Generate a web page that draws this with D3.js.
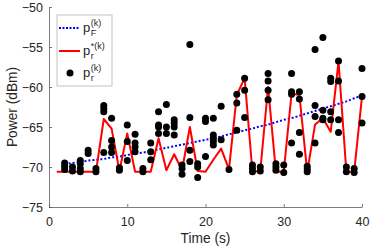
<!DOCTYPE html>
<html>
<head>
<meta charset="utf-8">
<script src="https://cdn.jsdelivr.net/npm/d3@7"></script>
<style>
  body { margin: 0; background: #fff; }
  svg { font-family: "Liberation Sans", Arial, sans-serif; }
  .axis text { fill: #262626; font-size: 12.5px; }
  .axis path, .axis line { stroke: #595959; stroke-width: 0.8; }
</style>
</head>
<body>
<div id="chart"></div>
<script>
// time steps
var optTimes = d3.range(1, 41);
var fitTimes = d3.range(2, 41);
var dotTimes = d3.range(2, 41);

// p_F^(k), trend line
var fitPower = [-69.6, -69.5, -69.4, -69.2, -69.1, -69.0, -68.8, -68.7, -68.5, -68.3,
  -68.2, -68.0, -67.8, -67.6, -67.4, -67.2, -67.0, -66.8, -66.6, -66.4,
  -66.2, -65.9, -65.7, -65.4, -65.2, -64.9, -64.7, -64.4, -64.1, -63.9,
  -63.6, -63.3, -63.0, -62.7, -62.4, -62.1, -61.8, -61.4, -61.1];

// p_r^*(k)
var optPower = [-70.6, -70.6, -70.6, -70.6, -70.6, -70.6, -64.0, -65.2, -70.5, -65.8,
  -70.6, -70.6, -70.6, -66.4, -70.4, -68.4, -70.4, -65.0, -70.5, -70.6,
  -69.1, -67.7, -70.3, -61.0, -58.9, -70.6, -70.5, -60.0, -70.6, -70.6,
  -60.8, -61.0, -70.6, -64.7, -63.9, -65.6, -56.8, -70.6, -70.6, -61.2];

// p_r^(k), measured samples per time step (t = 2..40)
var dotPower = [
  [-69.5, -69.9, -70.3],
  [-70.0, -70.5],
  [-69.2, -69.6, -70.2, -70.6],
  [-67.9, -68.3],
  [-70.2, -70.6],
  [-62.3, -62.7, -63.1, -68.2],
  [-63.9, -66.7, -67.5, -68.2],
  [-70.1, -70.4],
  [-64.75, -66.8, -69.2],
  [-65.9, -67.0, -67.5, -68.1],
  [-70.2, -70.6],
  [-67.0, -68.1, -69.1],
  [-63.1, -64.75, -65.0, -65.8],
  [-62.2, -65.0, -65.8],
  [-64.1, -64.5, -65.0, -66.0],
  [-69.75, -70.2, -70.9],
  [-54.7, -63.8, -67.9, -69.3],
  [-69.6, -70.0, -71.3],
  [-63.9, -64.3, -68.7],
  [-63.9, -66.0, -66.4, -66.8, -67.25],
  [-62.4, -66.6],
  [-70.3],
  [-60.9, -62.0, -65.4],
  [-58.9, -60.4, -63.8],
  [-69.75, -70.2, -70.6],
  [-70.0, -70.5],
  [-58.3, -59.25, -60.4, -61.6],
  [-69.6, -70.0, -70.4],
  [-69.75, -70.7],
  [-58.3, -60.6, -60.9, -67.0],
  [-60.6, -61.5, -65.7, -68.4],
  [-69.9, -70.25, -70.6],
  [-55.3, -62.3, -63.7, -67.0],
  [-53.8, -62.9, -63.9, -64.1],
  [-58.9, -59.3, -63.1, -64.1],
  [-56.75, -59.25, -64.1, -65.7],
  [-70.0, -70.6],
  [-70.2, -70.7],
  [-57.7, -61.2, -64.5]
];

var xTicks = [0, 10, 20, 30, 40];
var yTicks = [-50, -55, -60, -65, -70, -75];

var width = 374, height = 247;
var margin = {left: 49, right: 12, top: 7, bottom: 40};

var svg = d3.select("#chart").append("svg")
  .attr("width", width)
  .attr("height", height);

var x = d3.scaleLinear().domain([0, 40]).range([margin.left, width - margin.right]);
var y = d3.scaleLinear().domain([-75, -50]).range([height - margin.bottom, margin.top]);

// axes, ticks inward like matlab
svg.append("g")
  .attr("class", "axis")
  .attr("transform", "translate(0," + y(-75) + ")")
  .call(d3.axisBottom(x).tickValues(xTicks).tickSizeInner(-3).tickSizeOuter(0).tickPadding(10));

svg.append("g")
  .attr("class", "axis")
  .attr("transform", "translate(" + x(0) + ",0)")
  .call(d3.axisLeft(y).tickValues(yTicks).tickSizeInner(-3).tickSizeOuter(0).tickPadding(6));

svg.append("text")
  .attr("x", (x(0) + x(40)) / 2)
  .attr("y", 243)
  .attr("text-anchor", "middle")
  .attr("font-size", 13.75)
  .attr("fill", "#262626")
  .text("Time (s)");

svg.append("text")
  .attr("transform", "translate(17," + ((y(-50) + y(-75)) / 2) + ") rotate(-90)")
  .attr("text-anchor", "middle")
  .attr("font-size", 13.75)
  .attr("fill", "#262626")
  .text("Power (dBm)");

// lines
var fitLine = d3.line().x(function (d, i) { return x(fitTimes[i]); }).y(function (d) { return y(d); });
var optLine = d3.line().x(function (d, i) { return x(optTimes[i]); }).y(function (d) { return y(d); });

svg.append("path")
  .datum(fitPower)
  .attr("d", fitLine)
  .attr("fill", "none")
  .attr("stroke", "#0000ff")
  .attr("stroke-width", 2)
  .attr("stroke-dasharray", "2,2");

svg.append("path")
  .datum(optPower)
  .attr("d", optLine)
  .attr("fill", "none")
  .attr("stroke", "#ff0000")
  .attr("stroke-width", 2)
  .attr("stroke-linejoin", "round");

// flatten samples into points
var dots = [];
dotPower.forEach(function (vals, i) {
  vals.forEach(function (v) { dots.push({t: dotTimes[i], p: v}); });
});

svg.append("g").selectAll("circle")
  .data(dots)
  .enter()
  .append("circle")
    .attr("cx", function (d) { return x(d.t); })
    .attr("cy", function (d) { return y(d.p); })
    .attr("r", 3.5)
    .attr("fill", "#000");

// legend
var lg = svg.append("g").attr("transform", "translate(57,15)");
lg.append("rect")
  .attr("width", 55).attr("height", 71)
  .attr("fill", "#fff")
  .attr("stroke", "#b3b3b3")
  .attr("stroke-width", 0.8);

lg.append("line").attr("x1", 2).attr("x2", 23).attr("y1", 13).attr("y2", 13)
  .attr("stroke", "#0000ff").attr("stroke-width", 2).attr("stroke-dasharray", "2,1.5");
lg.append("line").attr("x1", 2).attr("x2", 23).attr("y1", 36).attr("y2", 36)
  .attr("stroke", "#ff0000").attr("stroke-width", 2);
lg.append("circle").attr("cx", 13).attr("cy", 58).attr("r", 3.5).attr("fill", "#000");

function legendLabel(yy, sub, sup) {
  var p = lg.append("text")
    .attr("x", 26).attr("y", yy)
    .attr("font-size", 13).attr("fill", "#262626")
    .text("p");
  var w = p.node().getComputedTextLength();
  lg.append("text")
    .attr("x", 26 + w + 0.5).attr("y", yy - 6)
    .attr("font-size", 9).attr("fill", "#262626")
    .text(sup);
  lg.append("text")
    .attr("x", 26 + w + 0.5).attr("y", yy + 4)
    .attr("font-size", 9).attr("fill", "#262626")
    .text(sub);
}
legendLabel(17, "F", "(k)");
legendLabel(40, "r", "*(k)");
legendLabel(62, "r", "(k)");
</script>
</body>
</html>
